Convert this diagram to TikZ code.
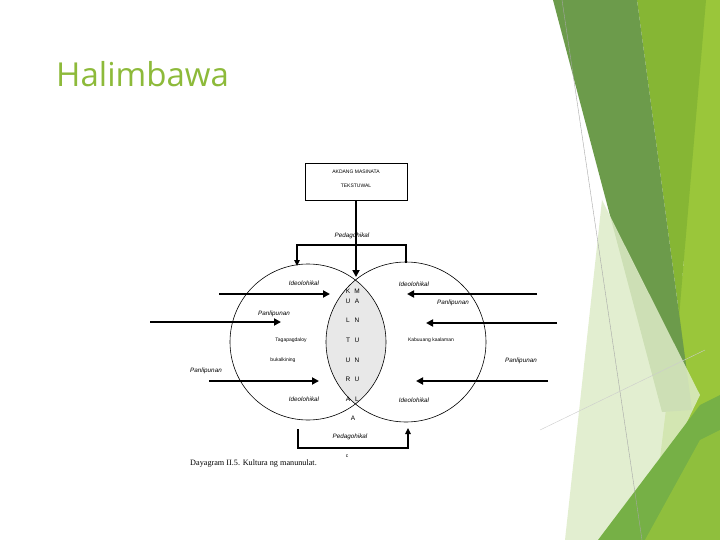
\documentclass[tikz,border=0pt]{standalone}
\usepackage{fontspec}
\setmainfont{Liberation Serif}
\newfontfamily\titlefont{Open Sans}
\newfontfamily\dsans{Liberation Sans}
\usetikzlibrary{arrows.meta}
\definecolor{titlegreen}{RGB}{141,186,58}
\definecolor{dkgreen}{RGB}{108,155,75}
\definecolor{mdgreen}{RGB}{134,182,52}
\definecolor{ltgreen}{RGB}{154,198,58}
\definecolor{palegreen}{RGB}{222,236,200}
\definecolor{btgreen}{RGB}{118,176,70}
\definecolor{lensgray}{RGB}{232,232,232}
\begin{document}
\begin{tikzpicture}[x=1pt,y=-1pt,
  lbl/.style={font=\dsans\itshape\fontsize{6.3}{7}\selectfont, inner sep=0},
  tiny/.style={font=\dsans\fontsize{5}{6}\selectfont, inner sep=0},
  letter/.style={font=\dsans\fontsize{6.5}{7}\selectfont, inner sep=0},
  bigarrow/.style={line width=2.2pt, -{Triangle[length=7pt,width=7pt]}},
  bracket/.style={line width=1.1pt},
  bracketarrow/.style={line width=1.1pt, -{Triangle[length=6pt,width=5.5pt]}},
  ring/.style={line width=0.6pt}]
\useasboundingbox (0,0) rectangle (720,540);
% background decoration
\fill[white] (0,0) rectangle (720,540);
\fill[ltgreen] (700,0) -- (720,0) -- (720,540) -- (650,540) -- (683,270) -- cycle;
\fill[mdgreen] (637,0) -- (706,0) -- (683,270) -- (672,400) -- (692,410) -- cycle;
\fill[dkgreen] (553,0) -- (637,0) -- (692,410) -- (662,412) -- cycle;
\fill[palegreen, opacity=0.85] (602,200) -- (700,395) -- (630,540) -- (565,540) -- cycle;
\fill[btgreen] (598,540) -- (700,405) -- (720,395) -- (720,540) -- cycle;
\fill[ltgreen, opacity=0.7] (645,540) -- (700,440) -- (720,430) -- (720,540) -- cycle;
\draw[gray!70, line width=0.4pt] (562,0) -- (642,540);
\draw[gray!40, line width=0.4pt] (540,430) -- (705,350);
% title
\node[font=\titlefont\fontsize{33}{38}\selectfont, text=titlegreen, anchor=west, inner sep=0] (title) at (56,74) {Halimbawa};
% lens fill
\begin{scope}
  \clip (308,342) circle[radius=78];
  \fill[lensgray] (406,342) circle[radius=80];
\end{scope}
\draw[ring] (308,342) circle[radius=78];
\draw[ring] (406,342) circle[radius=80];
\coordinate (topx) at (356,280);
\coordinate (botx) at (356,404);
% top box
\node[draw, line width=0.6pt, minimum width=102pt, minimum height=37pt, inner sep=0] (box) at (356,181.5) {};
\node[tiny] (boxt1) at (356,172) {AKDANG MASINATA};
\node[tiny] (boxt2) at (356,186) {TEKSTUWAL};
\draw[bigarrow, line width=1.8pt] (box.south) -- (356,277);
% top bracket
\node[lbl] (pedtop) at (352,236) {Pedagohikal};
\coordinate (tbl) at (297,245);
\coordinate (tbr) at (406,245);
\coordinate (tbre) at (406,263);
\coordinate (tble) at (297,266);
\draw[bracketarrow] (tbre) -- (tbr) -- (tbl) -- (tble);
% bottom bracket
\node[lbl] (pedbot) at (350,437) {Pedagohikal};
\coordinate (bbls) at (298,429);
\coordinate (bbl) at (298,448);
\coordinate (bbr) at (408,448);
\coordinate (bbre) at (408,428);
\draw[bracketarrow] (bbls) -- (bbl) -- (bbr) -- (bbre);
% labels
\node[lbl] (ideo1) at (304,283) {Ideolohikal};
\node[lbl] (ideo2) at (414,284) {Ideolohikal};
\node[lbl] (ideo3) at (304,399) {Ideolohikal};
\node[lbl] (ideo4) at (414,400) {Ideolohikal};
\node[lbl] (pan1) at (274,314) {Panlipunan};
\node[lbl] (pan2) at (453,303) {Panlipunan};
\node[lbl] (pan3) at (206,371) {Panlipunan};
\node[lbl] (pan4) at (521,361) {Panlipunan};
\node[tiny] (tag) at (291,340) {Tagapagdaloy};
\node[tiny] (buk) at (283,360) {bukalkining};
\node[tiny] (kab) at (431,340) {Kabuuang kaalaman};
% lens letters
\node[letter] (k) at (348,291) {K}; \node[letter] (m) at (357,291) {M};
\node[letter] (u1) at (348,301) {U}; \node[letter] (a1) at (357,301) {A};
\node[letter] (l1) at (348,320) {L}; \node[letter] (n1) at (357,320) {N};
\node[letter] (t1) at (348,340) {T}; \node[letter] (u2) at (357,340) {U};
\node[letter] (u3) at (348,360) {U}; \node[letter] (n2) at (357,360) {N};
\node[letter] (r1) at (348,379) {R}; \node[letter] (u4) at (357,379) {U};
\node[letter] (a2) at (348,399) {A}; \node[letter] (l2) at (357,399) {L};
\node[letter] (a3) at (353,418) {A};
\node[tiny] (cc) at (347,456) {c};
% big arrows
\coordinate (l1s) at (219,294); \coordinate (l1e) at (330,294);
\coordinate (l2s) at (150,322); \coordinate (l2e) at (281,322);
\coordinate (l3s) at (209,381); \coordinate (l3e) at (319,381);
\coordinate (r1s) at (537,294); \coordinate (r1e) at (407,294);
\coordinate (r2s) at (557,323); \coordinate (r2e) at (426,323);
\coordinate (r3s) at (548,381); \coordinate (r3e) at (416,381);
\draw[bigarrow] (l1s) -- (l1e);
\draw[bigarrow] (l2s) -- (l2e);
\draw[bigarrow] (l3s) -- (l3e);
\draw[bigarrow] (r1s) -- (r1e);
\draw[bigarrow] (r2s) -- (r2e);
\draw[bigarrow] (r3s) -- (r3e);
% caption
\node[font=\fontsize{8.2}{10}\selectfont, anchor=west, inner sep=0] (cap) at (190,464) {Dayagram II.5. Kultura ng manunulat.};
\end{tikzpicture}
\end{document}
